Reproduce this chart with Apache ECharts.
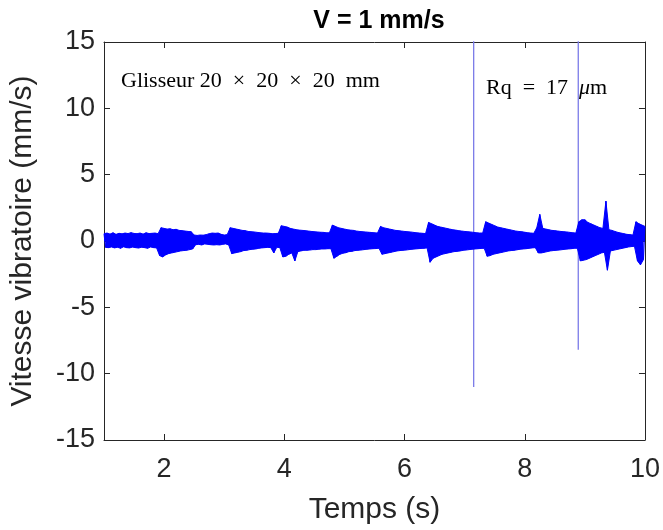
<!DOCTYPE html>
<html>
<head>
<meta charset="utf-8">
<script src="https://cdn.jsdelivr.net/npm/echarts@6/dist/echarts.min.js"></script>
<style>html,body{margin:0;padding:0;background:#fff}#c{width:663px;height:530px}</style>
</head>
<body>
<div id="c"></div>
<script>
// Sampling of the vibration signal (s)
var t0 = 1.0;
var dt = 0.025;
// Vitesse vibratoire (mm/s): successive upper / lower excursions of the signal
var vitesse = [
  0.55,-0.48,0.6,-0.5,0.52,-0.45,0.62,-0.52,0.5,-0.47,0.58,-0.55,0.54,-0.44,0.6,-0.5,0.56,-0.52,0.63,-0.46,
  0.57,-0.5,0.55,-0.53,0.6,-0.47,0.52,-0.5,0.62,-0.55,0.56,-0.45,0.58,-0.5,0.6,-0.52,0.55,-1.1,1.0,-1.2,
  0.95,-1.05,0.9,-0.95,0.92,-0.9,0.85,-0.85,0.88,-0.8,0.8,-0.75,0.78,-0.72,0.75,-0.7,0.72,-0.65,0.7,-0.6,
  0.45,-0.28,0.42,-0.25,0.45,-0.3,0.44,-0.22,0.48,-0.25,0.55,-0.28,0.6,-0.3,0.58,-0.28,0.6,-0.3,0.5,-0.25,
  0.45,-0.22,0.48,-0.3,1.0,-0.95,0.95,-0.9,0.9,-0.85,0.85,-0.8,0.8,-0.72,0.78,-0.7,0.72,-0.65,0.7,-0.62,
  0.68,-0.6,0.65,-0.55,0.62,-0.52,0.6,-0.5,0.6,-0.48,0.58,-0.5,0.55,-0.9,0.56,-0.47,0.58,-0.5,1.15,-1.2,
  1.1,-1.15,1.05,-1.0,0.95,-0.9,0.9,-1.5,0.85,-0.8,0.82,-0.75,0.8,-0.7,0.78,-0.7,0.75,-0.68,0.72,-0.65,
  0.7,-0.65,0.68,-0.62,0.66,-0.6,0.65,-0.6,0.62,-0.58,0.62,-0.58,1.2,-1.3,1.1,-1.15,1.0,-1.0,0.95,-0.92,
  0.9,-0.88,0.85,-0.8,0.82,-0.78,0.8,-0.72,0.75,-0.7,0.72,-0.68,0.7,-0.65,0.68,-0.62,0.66,-0.6,0.64,-0.58,
  0.62,-0.57,0.6,-0.55,1.1,-1.0,1.0,-0.95,0.95,-0.9,0.9,-0.85,0.85,-0.8,0.8,-0.75,0.78,-0.72,0.75,-0.7,
  0.72,-0.68,0.7,-0.65,0.68,-0.62,0.65,-0.6,0.62,-0.58,0.6,-0.56,0.58,-0.55,0.56,-0.52,1.4,-1.6,1.3,-1.3,
  1.2,-1.2,1.1,-1.1,1.05,-1.0,1.0,-0.95,0.95,-0.9,0.9,-0.85,0.85,-0.8,0.82,-0.78,0.78,-0.75,0.75,-0.7,
  0.72,-0.68,0.7,-0.65,0.68,-0.62,0.65,-0.6,0.62,-0.58,0.6,-0.56,0.6,-0.55,1.45,-1.15,1.35,-1.1,1.25,-1.0,
  1.15,-0.95,1.05,-0.9,1.0,-0.85,0.95,-0.8,0.9,-0.75,0.85,-0.72,0.8,-0.7,0.75,-0.66,0.72,-0.62,0.7,-0.6,
  0.66,-0.58,0.62,-0.55,0.6,-0.52,0.58,-0.5,1.0,-0.9,2.0,-0.9,0.95,-0.85,0.9,-0.8,0.85,-0.75,0.8,-0.72,
  0.78,-0.7,0.75,-0.68,0.72,-0.65,0.7,-0.62,0.68,-0.6,0.65,-0.58,0.62,-0.55,0.6,-0.55,1.45,-1.5,1.6,-1.45,
  1.6,-1.4,1.4,-1.3,1.3,-1.2,1.2,-1.1,1.1,-1.0,1.0,-0.9,0.95,-0.85,3.0,-2.2,0.85,-0.75,0.8,-0.7,
  0.72,-0.65,0.65,-0.6,0.6,-0.55,0.55,-0.5,0.5,-0.45,0.48,-0.42,0.45,-0.4,1.45,-1.5,1.3,-1.8,1.2,-1.4,
  1.1
];
// Isolated shocks
var picTemps = [7.15, 8.89];
var picHaut = [16, 16];
var picBas = [-11, -8.2];

var xTicks = [2, 4, 6, 8, 10];
var yMin = -15, yMax = 15, yStep = 5;
var titre = 'V = 1 mm/s';
var xNom = 'Temps (s)';
var yNom = 'Vitesse vibratoire (mm/s)';

var signal = vitesse.map(function (v, i) { return [t0 + i * dt, v]; });
var hauts = signal.filter(function (p) { return p[1] >= 0; });
var bas = signal.filter(function (p) { return p[1] < 0; });
var blue = '#0000ff';
var series = [
  { type: 'line', data: hauts, symbol: 'none', lineStyle: { color: blue, width: 1 },
    areaStyle: { color: blue, opacity: 1, origin: 0 }, clip: true, z: 3 },
  { type: 'line', data: bas, symbol: 'none', lineStyle: { color: blue, width: 1 },
    areaStyle: { color: blue, opacity: 1, origin: 0 }, clip: true, z: 3 },
  { type: 'line', data: signal, symbol: 'none', lineStyle: { color: blue, width: 1 }, clip: true, z: 4 }
];
picTemps.forEach(function (t, k) {
  series.push({
    type: 'line', data: [[t, picHaut[k]], [t, picBas[k]]], symbol: 'none',
    lineStyle: { color: '#7b7be8', width: 1.3 }, clip: true, z: 2
  });
});

var axisCol = '#262626';
var font = 'Liberation Sans, Arial, sans-serif';
var serif = '"Liberation Serif", serif';
var chart = echarts.init(document.getElementById('c'), null, { renderer: 'canvas' });
chart.setOption({
  animation: false,
  backgroundColor: '#fff',
  title: {
    text: titre, left: 374, top: 4, textAlign: 'center',
    textStyle: { fontFamily: font, fontWeight: 'bold', fontSize: 25, color: '#000' }
  },
  grid: { left: 102, right: 17, top: 42, bottom: 89, containLabel: false },
  xAxis: [{
    type: 'value', min: 1, max: 10, interval: 1, position: 'bottom',
    name: xNom, nameLocation: 'middle', nameGap: 55,
    nameTextStyle: { fontFamily: font, fontSize: 30, color: axisCol },
    axisLine: { show: true, onZero: false, lineStyle: { color: axisCol, width: 1 } },
    axisTick: { show: true, inside: true, length: 6, customValues: [2, 4, 6, 8], lineStyle: { color: axisCol } },
    axisLabel: { customValues: xTicks, margin: 16, fontFamily: font, fontSize: 27, color: axisCol },
    splitLine: { show: false }
  }, {
    type: 'value', min: 1, max: 10, interval: 1, position: 'top',
    axisLine: { show: true, onZero: false, lineStyle: { color: axisCol, width: 1 } },
    axisTick: { show: true, inside: true, length: 6, customValues: [2, 4, 6, 8], lineStyle: { color: axisCol } },
    axisLabel: { show: false }, splitLine: { show: false }
  }],
  yAxis: [{
    type: 'value', min: yMin, max: yMax, interval: yStep, position: 'left',
    name: yNom, nameLocation: 'middle', nameGap: 66, nameRotate: 90,
    nameTextStyle: { fontFamily: font, fontSize: 30, color: axisCol },
    axisLine: { show: true, onZero: false, lineStyle: { color: axisCol, width: 1 } },
    axisTick: { show: true, inside: true, length: 6, lineStyle: { color: axisCol } },
    axisLabel: { margin: 9, fontFamily: font, fontSize: 27, color: axisCol },
    splitLine: { show: false }
  }, {
    type: 'value', min: yMin, max: yMax, interval: yStep, position: 'right',
    axisLine: { show: true, onZero: false, lineStyle: { color: axisCol, width: 1 } },
    axisTick: { show: true, inside: true, length: 6, lineStyle: { color: axisCol } },
    axisLabel: { show: false }, splitLine: { show: false }
  }],
  graphic: [
    { type: 'text', left: 121, top: 70, z: 10,
      style: { text: 'Glisseur 20\u2002\u00d7\u200220\u2002\u00d7\u200220\u2002mm', font: '22px ' + serif, fill: '#000' } },
    { type: 'text', left: 486, top: 77, z: 10,
      style: {
        text: '{n|Rq\u2002=\u200217\u2002}{i|\u03bc}{n|m}', fill: '#000',
        rich: {
          n: { fontFamily: serif, fontSize: 22, color: '#000' },
          i: { fontFamily: serif, fontSize: 22, fontStyle: 'italic', color: '#000' }
        }
      } }
  ],
  series: series
});
</script>
</body>
</html>
